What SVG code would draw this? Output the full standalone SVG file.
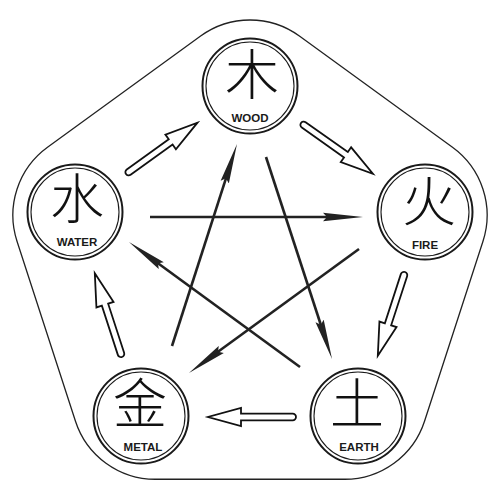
<svg xmlns="http://www.w3.org/2000/svg" width="500" height="500" viewBox="0 0 500 500">
<style>
.frame{fill:none;stroke:#222;stroke-width:1.3}
.ring-o{fill:#fff;stroke:#1a1a1a;stroke-width:2}
.ring-i{fill:none;stroke:#1a1a1a;stroke-width:1.1}
.hz{font-family:"Noto Sans CJK SC","Noto Sans CJK JP",sans-serif;font-weight:200;font-size:54px;fill:#111;text-anchor:middle}
.lbl{font-family:"Liberation Sans",Arial,sans-serif;font-weight:bold;font-size:11.5px;fill:#1a1a1a;text-anchor:middle}
.star{stroke:#222;stroke-width:2.6;fill:none;marker-end:url(#dart)}
.block{fill:#fff;stroke:#111;stroke-width:1.8;stroke-linejoin:miter}
</style>
<defs>
<marker id="dart" markerUnits="userSpaceOnUse" viewBox="0 -5 40 10" markerWidth="40" markerHeight="10" refX="10" refY="0" orient="auto">
<path d="M40,0 L0,-4.3 L4,0 L0,4.3 Z" fill="#222"/>
</marker>
<path id="blk" d="M3.3,-3.3 L55,-3.3 L55,-9 L88,0 L55,9 L55,3.3 L3.3,3.3 A3.3,3.3 0 0 1 3.3,-3.3 Z"/>
</defs>
<rect width="500" height="500" fill="#fff"/>
<path class="frame" d="M200.62,36.04 A84,84 0 0 1 299.38,36.04 L452.48,147.29 A84,84 0 0 1 482.99,241.21 L424.52,421.21 A84,84 0 0 1 344.63,479.25 L155.37,479.25 A84,84 0 0 1 75.48,421.21 L17.01,241.21 A84,84 0 0 1 47.52,147.29 Z"/>
<g id="connectors">
<use href="#blk" class="block" transform="translate(126,174) rotate(-35.7)"/>
<use href="#blk" class="block" transform="translate(301,123) rotate(35.2)"/>
<use href="#blk" class="block" transform="translate(405,272) rotate(108)"/>
<use href="#blk" class="block" transform="translate(296,417) rotate(180)"/>
<use href="#blk" class="block" transform="translate(122,357) rotate(252)"/>
<line class="star" x1="150" y1="217" x2="333" y2="217"/>
<line class="star" x1="172" y1="346" x2="227.8" y2="172.6"/>
<line class="star" x1="266" y1="157" x2="322.7" y2="330.5"/>
<line class="star" x1="359" y1="249" x2="213.2" y2="355.3"/>
<line class="star" x1="300" y1="367" x2="153.2" y2="259.7"/>
</g>
<g id="wood">
<circle class="ring-o" cx="250" cy="86" r="47.5"/>
<circle class="ring-i" cx="250" cy="86" r="44"/>
<text class="hz" x="252" y="95">木</text>
<text class="lbl" x="250" y="122">WOOD</text>
</g>
<g id="fire">
<circle class="ring-o" cx="425" cy="212" r="47.5"/>
<circle class="ring-i" cx="425" cy="212" r="44"/>
<text class="hz" x="429" y="222">火</text>
<text class="lbl" x="425" y="249">FIRE</text>
</g>
<g id="earth">
<circle class="ring-o" cx="358" cy="416" r="47.5"/>
<circle class="ring-i" cx="358" cy="416" r="44"/>
<text class="hz" x="357" y="424">土</text>
<text class="lbl" x="359" y="451">EARTH</text>
</g>
<g id="metal">
<circle class="ring-o" cx="141" cy="416" r="47.5"/>
<circle class="ring-i" cx="141" cy="416" r="44"/>
<text class="hz" x="140" y="424">金</text>
<text class="lbl" x="143" y="451">METAL</text>
</g>
<g id="water">
<circle class="ring-o" cx="75" cy="212" r="47.5"/>
<circle class="ring-i" cx="75" cy="212" r="44"/>
<text class="hz" x="77" y="219">水</text>
<text class="lbl" x="77" y="246">WATER</text>
</g>
</svg>
